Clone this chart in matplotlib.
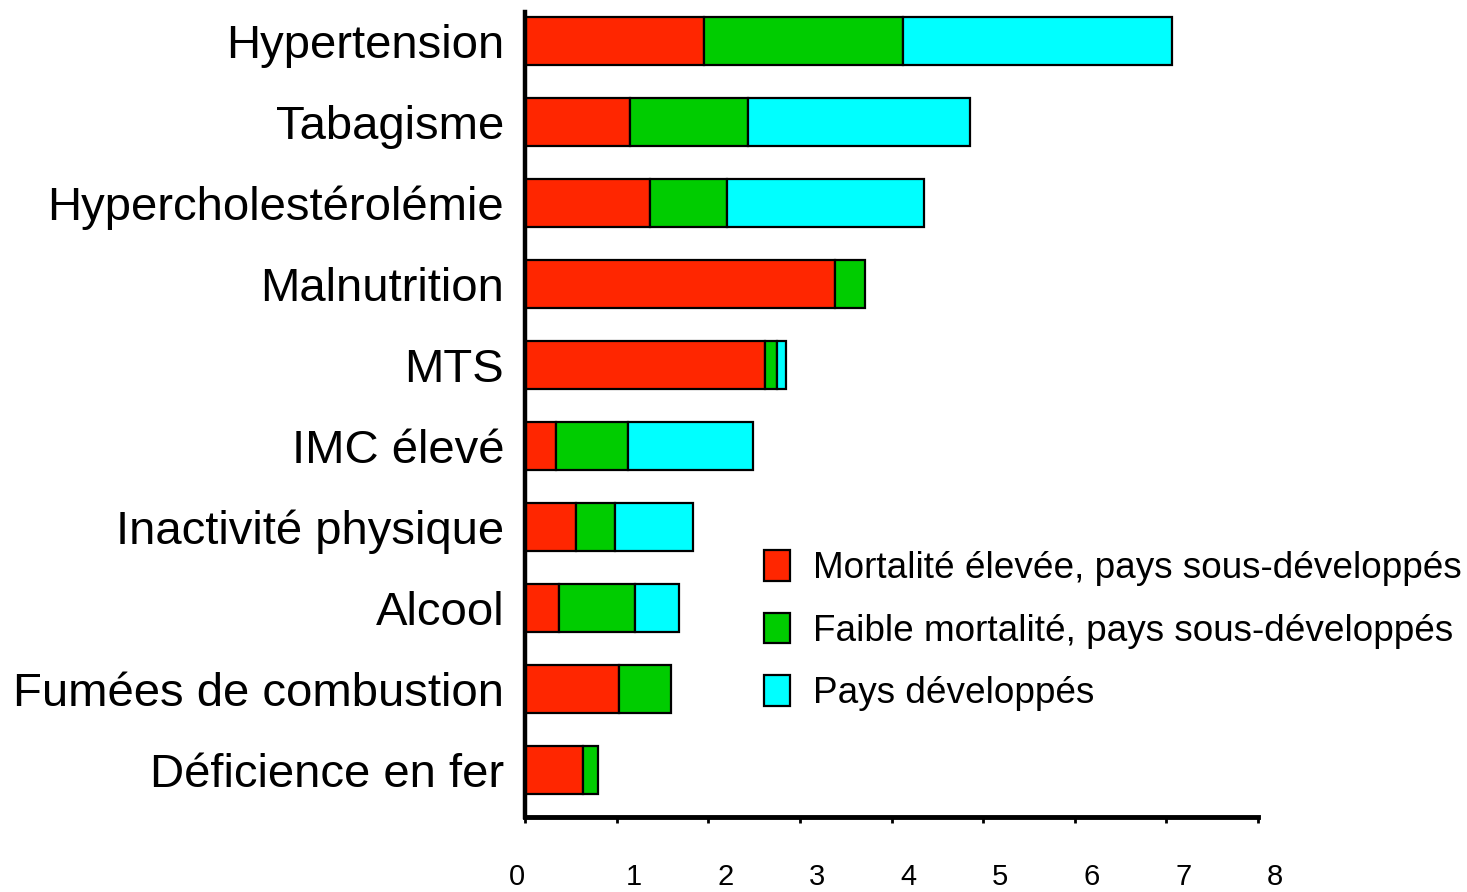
import matplotlib
matplotlib.use("Agg")
import matplotlib.pyplot as plt
import matplotlib.transforms as mtransforms
import numpy as np

plt.rcParams["font.family"] = ["Liberation Sans", "DejaVu Sans"]

categories = [
    "Hypertension",
    "Tabagisme",
    "Hypercholestérolémie",
    "Malnutrition",
    "MTS",
    "IMC élevé",
    "Inactivité physique",
    "Alcool",
    "Fumées de combustion",
    "Déficience en fer",
]
high_mortality = [1.95, 1.15, 1.36, 3.38, 2.62, 0.34, 0.56, 0.37, 1.03, 0.63]
low_mortality = [2.18, 1.28, 0.85, 0.33, 0.13, 0.78, 0.42, 0.83, 0.56, 0.17]
developed = [2.93, 2.43, 2.14, 0.0, 0.10, 1.37, 0.85, 0.48, 0.0, 0.0]

series_labels = [
    "Mortalité élevée, pays sous-développés",
    "Faible mortalité, pays sous-développés",
    "Pays développés",
]
colors = ["#ff2600", "#00cc00", "#00ffff"]
x_ticks = [0, 1, 2, 3, 4, 5, 6, 7, 8]

fig = plt.figure(figsize=(14.67, 8.92), dpi=100)
ax = fig.add_axes([525 / 1467, 1 - 817 / 892, (1258 - 525) / 1467, (817 - 12) / 892])

y = np.arange(len(categories))[::-1]
left = np.zeros(len(categories))
handles = []
for values, color, label in zip([high_mortality, low_mortality, developed], colors, series_labels):
    vals = np.array(values)
    mask = vals > 0
    bars = ax.barh(y[mask], vals[mask], left=left[mask], height=0.59, color=color,
                   edgecolor="black", linewidth=1.6, label=label)
    handles.append(bars)
    left += vals

ax.set_xlim(0, 8)
ax.set_ylim(-0.58, 9.36)
ax.set_yticks(y)
ax.set_yticklabels(categories, fontsize=34)
ax.tick_params(axis="y", length=0, pad=15)

ax.set_xticks(x_ticks)
ax.set_xticklabels([str(t) for t in x_ticks], fontsize=21)
ax.tick_params(axis="x", direction="out", length=4, width=2, pad=29)
offset = mtransforms.ScaledTranslation(17 / 100, 0, fig.dpi_scale_trans)
for i, lbl in enumerate(ax.get_xticklabels()):
    if i == 0:
        lbl.set_transform(lbl.get_transform() + mtransforms.ScaledTranslation(-8 / 100, 0, fig.dpi_scale_trans))
    else:
        lbl.set_transform(lbl.get_transform() + offset)

for side in ["top", "right"]:
    ax.spines[side].set_visible(False)
ax.spines["left"].set_linewidth(3.2)
ax.spines["bottom"].set_linewidth(3.5)

ax.legend(handles=handles, loc="upper left", bbox_to_anchor=(764 / 1467, 1 - 550 / 892),
          bbox_transform=fig.transFigure, frameon=False, fontsize=26.6,
          handlelength=0.7, handleheight=0.9, handletextpad=0.62, labelspacing=0.72,
          borderaxespad=0, borderpad=0)

fig.savefig("out.png", dpi=100)
